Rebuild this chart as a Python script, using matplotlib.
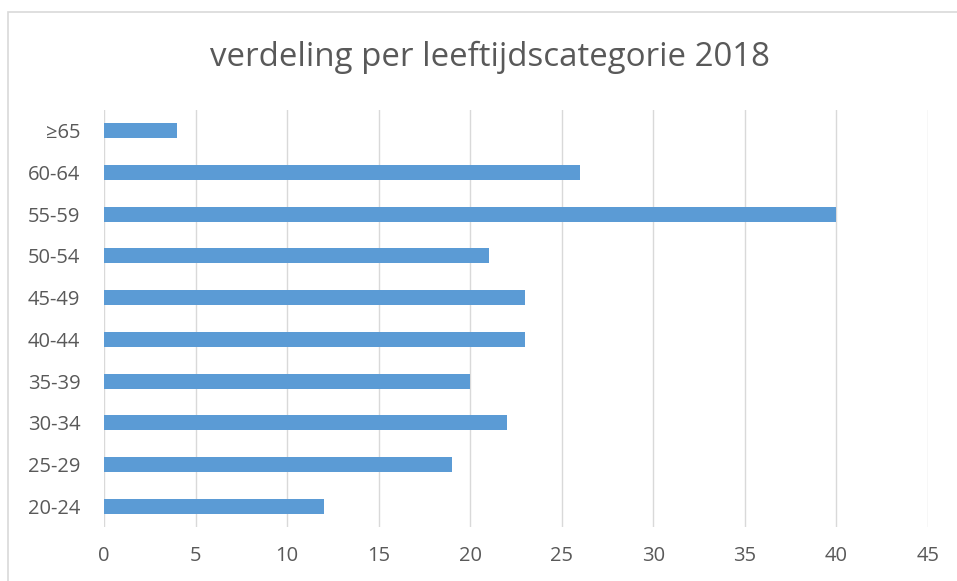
import matplotlib.pyplot as plt
from matplotlib.patches import Rectangle

# data
categories = ["20-24", "25-29", "30-34", "35-39", "40-44", "45-49",
              "50-54", "55-59", "60-64", "≥65"]
counts = [12, 19, 22, 20, 23, 23, 21, 40, 26, 4]
xticks = [0, 5, 10, 15, 20, 25, 30, 35, 40, 45]

plt.rcParams["font.family"] = ["Open Sans", "DejaVu Sans"]

W, H = 957, 581
fig = plt.figure(figsize=(W / 100, H / 100), dpi=100)
ax = fig.add_axes([104 / W, 1 - 527 / H, (928 - 104) / W, (527 - 110) / H])

ypos = list(range(len(categories)))
ax.barh(ypos, counts, height=0.36, color="#5B9BD5", zorder=3)

ax.set_xlim(0, 45)
ax.set_ylim(-0.5, len(categories) - 0.5)
ax.set_xticks(xticks)
ax.set_yticks(ypos)
ax.set_yticklabels(categories)

for s in ax.spines.values():
    s.set_visible(False)
ax.grid(axis="x", color="#D9D9D9", linewidth=1.0, zorder=0)
ax.tick_params(axis="both", length=0, labelsize=14.5, labelcolor="#595959")
ax.tick_params(axis="y", pad=17)
ax.tick_params(axis="x", pad=14)

fig.text(490 / W, 1 - 57 / H, "verdeling per leeftijdscategorie 2018",
         ha="center", va="center", fontsize=23.8, color="#595959")

# chart border (cut off at right and bottom)
fig.patches.append(Rectangle((8 / W, -0.1), 1.2, 1.1 - 12 / H,
                             transform=fig.transFigure, fill=False,
                             edgecolor="#D9D9D9", linewidth=1.2))

fig.savefig("out.png", dpi=100)
